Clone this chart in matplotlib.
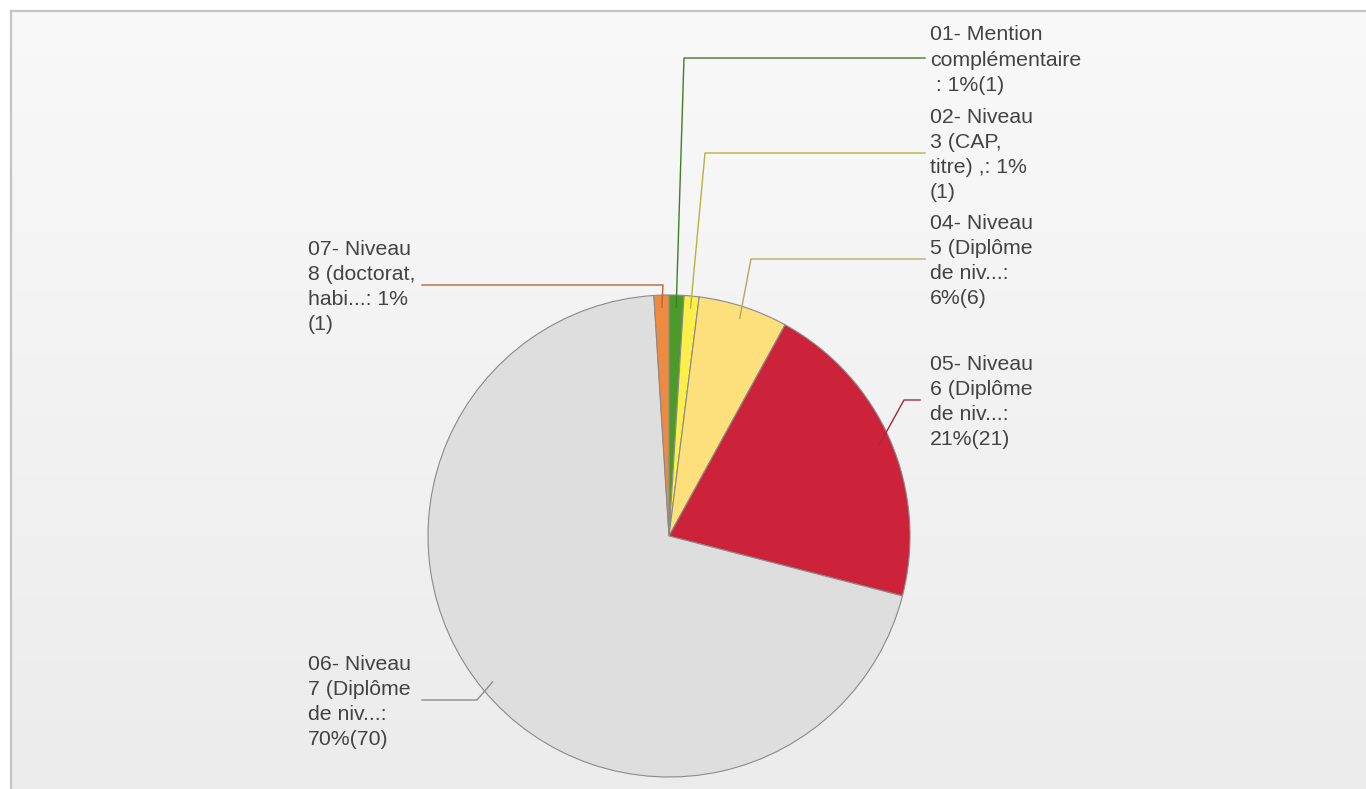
import numpy as np
import matplotlib.pyplot as plt
from matplotlib.patches import Rectangle

W, H = 1366, 789

# slices, clockwise from 12 o'clock
labels = [
    "01- Mention\ncomplémentaire\n : 1%(1)",
    "02- Niveau\n3 (CAP,\ntitre) ,: 1%\n(1)",
    "04- Niveau\n5 (Diplôme\nde niv...:\n6%(6)",
    "05- Niveau\n6 (Diplôme\nde niv...:\n21%(21)",
    "06- Niveau\n7 (Diplôme\nde niv...:\n70%(70)",
    "07- Niveau\n8 (doctorat,\nhabi...: 1%\n(1)",
]
values = [1, 1, 6, 21, 70, 1]
colors = ["#4c9a2a", "#fdee4a", "#fde07b", "#cc233b", "#dedede", "#ef8a3f"]
line_colors = ["#3f7f24", "#b9b23c", "#b9a562", "#a8283a", "#8c8c8c", "#b8653a"]

# label layout (pixel coords, y from top): text x, text centre y, elbow x
label_x = [930, 930, 930, 930, 308, 308]
label_y = [58, 153, 259, 400, 700, 285]
elbow_x = [684, 705, 751, 904, 477, 663]
line_end = [925, 925, 925, 920, 422, 422]

cx, cy, R = 669, H - 536, 241

fig = plt.figure(figsize=(W / 100, H / 100), dpi=100)
ax = fig.add_axes([0, 0, 1, 1])

# panel background with light vertical gradient
grad = np.linspace(0.975, 0.925, 256)[:, None] * np.ones((1, 2))
ax.imshow(np.dstack([grad, grad, grad]), extent=[11, W, 0, H - 11],
          aspect='auto', zorder=0, interpolation='bilinear')
ax.add_patch(Rectangle((11, -20), W + 50, H - 11 + 20, fill=False,
                       edgecolor='#c4c4c4', linewidth=1.6, zorder=1))

wedges, _ = ax.pie(values, colors=colors, startangle=90, counterclock=False,
                   center=(cx, cy), radius=R,
                   wedgeprops=dict(edgecolor='#8a8a8a', linewidth=0.8, zorder=2))

for w, lab, lx, ly, ex, le, lc in zip(wedges, labels, label_x, label_y,
                                      elbow_x, line_end, line_colors):
    mid = np.deg2rad((w.theta1 + w.theta2) / 2)
    ax_x = cx + 0.95 * R * np.cos(mid)
    ax_y = cy + 0.95 * R * np.sin(mid)
    y = H - ly
    ax.plot([ax_x, ex, le], [ax_y, y, y], color=lc, linewidth=1.0, zorder=3)
    ax.text(lx, y - 2, lab, ha='left', va='center', fontsize=15.3,
            family='Liberation Sans', color='#434343', linespacing=1.41,
            zorder=4)

ax.set_xlim(0, W)
ax.set_ylim(0, H)
ax.set_aspect('auto')
ax.axis('off')

fig.savefig('out.png', dpi=100, facecolor='white')
